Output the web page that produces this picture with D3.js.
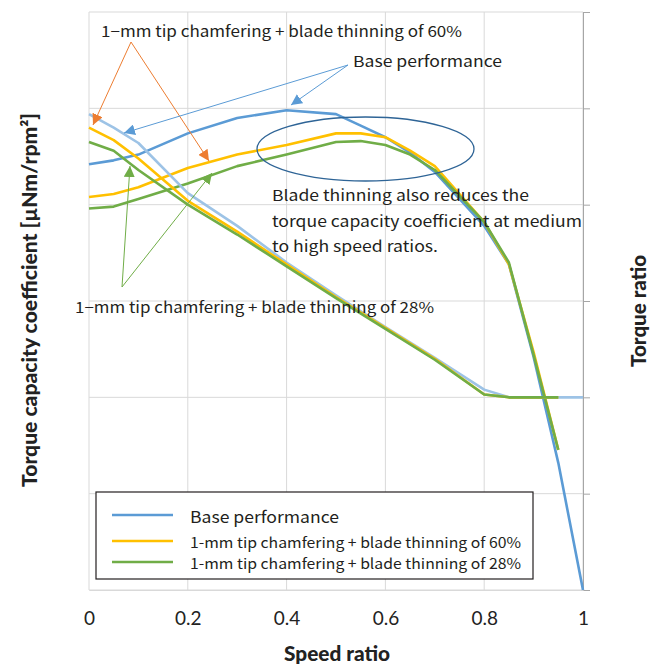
<!DOCTYPE html>
<html>
<head>
<meta charset="utf-8">
<script src="https://cdn.jsdelivr.net/npm/d3@7"></script>
<style>
  body { margin: 0; background: #fff; }
  svg { display: block; }
</style>
</head>
<body>
<div class="chart"></div>
<script>
// speed ratio samples
const tcSpeed = [0, 0.05, 0.1, 0.2, 0.3, 0.4, 0.5, 0.55, 0.6, 0.65, 0.7, 0.8, 0.85, 0.9, 0.95, 1.0];
const trSpeed = [0, 0.05, 0.1, 0.2, 0.3, 0.4, 0.5, 0.6, 0.7, 0.8, 0.85, 0.9, 0.95, 1.0];

// torque capacity coefficient (left axis, no labels shown)
const tcBase = [22.1, 22.3, 22.6, 23.7, 24.5, 24.9, 24.7, 24.1, 23.5, 22.7, 21.7, 18.9, 16.9, 12.1, 6.6, 0];
const tc60   = [20.4, 20.55, 20.9, 21.9, 22.6, 23.1, 23.7, 23.7, 23.5, 22.8, 22.0, 19.1, 16.9, 12.35, 7.27];
const tc28   = [19.8, 19.9, 20.3, 21.1, 22.0, 22.6, 23.25, 23.3, 23.1, 22.6, 21.8, 19.1, 17.0, 12.2, 7.27];

// torque ratio (right axis)
const trBase = [2.47, 2.40, 2.32, 2.06, 1.89, 1.70, 1.53, 1.365, 1.205, 1.04, 1.0, 1.0, 1.0, 1.0];
const tr60   = [2.40, 2.335, 2.24, 2.02, 1.86, 1.69, 1.52, 1.36, 1.20, 1.015, 1.0, 1.0, 1.0];
const tr28   = [2.325, 2.28, 2.18, 2.00, 1.845, 1.68, 1.515, 1.355, 1.195, 1.015, 1.0, 1.0, 1.0];

const xTicks = [0, 0.2, 0.4, 0.6, 0.8, 1];
const trTicks = [0, 0.5, 1, 1.5, 2, 2.5, 3];

const legendNames = ['Base performance',
  '1-mm tip chamfering + blade thinning of 60%',
  '1-mm tip chamfering + blade thinning of 28%'];

const BLUE = '#5b9bd5', YELLOW = '#ffc000', GREEN = '#70ad47', LIGHT = '#9dc3e6', ORANGE = '#ed7d31';
const jp = "'Noto Sans CJK JP', 'Noto Sans', sans-serif";
const lab = "Lato, 'Open Sans', sans-serif";

const width = 664, height = 666;
const svg = d3.select('.chart').append('svg')
  .attr('width', width).attr('height', height);

const x = d3.scaleLinear().domain([0, 1]).range([89, 583]);
const yTC = d3.scaleLinear().domain([0, 30]).range([590, 12]);
const yTR = d3.scaleLinear().domain([0, 3]).range([590, 12]);

// grid
svg.append('g').selectAll('line').data(trTicks).enter().append('line')
  .attr('x1', x(0)).attr('x2', x(1))
  .attr('y1', d => yTR(d)).attr('y2', d => yTR(d))
  .attr('stroke', '#d9d9d9').attr('stroke-width', 1);
svg.append('g').selectAll('line').data(xTicks).enter().append('line')
  .attr('x1', d => x(d)).attr('x2', d => x(d))
  .attr('y1', yTR(0)).attr('y2', yTR(3))
  .attr('stroke', '#d9d9d9').attr('stroke-width', 1);

// right axis (ticks, no labels)
const rAxis = svg.append('g').attr('transform', 'translate(' + x(1) + ',0)')
  .call(d3.axisRight(yTR).tickValues(trTicks).tickSize(7).tickFormat(''));
rAxis.selectAll('path, line').attr('stroke', '#a6a6a6');

// bottom labels
const xAxis = svg.append('g').attr('transform', 'translate(0,' + yTR(0) + ')')
  .call(d3.axisBottom(x).tickValues(xTicks).tickSize(0).tickPadding(22)
    .tickFormat(d => d === 0 || d === 1 ? d : d3.format('.1f')(d)));
xAxis.select('.domain').attr('stroke', '#d9d9d9');
xAxis.selectAll('text').attr('font-family', lab).attr('font-size', 19).attr('fill', '#222');

// lines
const line = (xs, sc) => d3.line().x((d, i) => x(xs[i])).y(d => sc(d));
const series = [
  { v: tcBase, xs: tcSpeed, sc: yTC, c: BLUE },
  { v: tc60, xs: tcSpeed, sc: yTC, c: YELLOW },
  { v: tc28, xs: tcSpeed, sc: yTC, c: GREEN },
  { v: trBase, xs: trSpeed, sc: yTR, c: LIGHT },
  { v: tr60, xs: trSpeed, sc: yTR, c: YELLOW },
  { v: tr28, xs: trSpeed, sc: yTR, c: GREEN }
];
svg.append('g').selectAll('path').data(series).enter().append('path')
  .attr('d', d => line(d.xs, d.sc)(d.v))
  .attr('fill', 'none').attr('stroke', d => d.c)
  .attr('stroke-width', 2.6).attr('stroke-linejoin', 'round');

// arrow markers
const defs = svg.append('defs');
[['orange', ORANGE], ['blue', BLUE], ['green', GREEN]].forEach(function(m) {
  defs.append('marker').attr('id', 'ah-' + m[0])
    .attr('viewBox', '0 0 10 10').attr('refX', 10).attr('refY', 5)
    .attr('markerWidth', 11).attr('markerHeight', 11).attr('markerUnits', 'userSpaceOnUse')
    .attr('orient', 'auto')
    .append('path').attr('d', 'M0,0 L10,5 L0,10 Z').attr('fill', m[1]);
});

function arrow(x1, y1, x2, y2, name, col) {
  svg.append('line').attr('x1', x1).attr('y1', y1).attr('x2', x2).attr('y2', y2)
    .attr('stroke', col).attr('stroke-width', 1)
    .attr('marker-end', 'url(#ah-' + name + ')');
}

// annotations
function note(t, x0, yc, w, fs) {
  svg.append('text').attr('x', x0).attr('y', yc + fs * 0.36)
    .attr('font-family', jp).attr('font-size', fs).attr('fill', '#231f20')
    .attr('textLength', w).attr('lengthAdjust', 'spacingAndGlyphs')
    .text(t);
}
note('1\u2212mm tip chamfering + blade thinning of 60%', 101, 32, 361, 15);
arrow(131, 42, 93, 125, 'orange', ORANGE);
arrow(131, 42, 209, 161, 'orange', ORANGE);

note('Base performance', 353, 62, 149, 15);
arrow(348, 65, 124, 133, 'blue', BLUE);
arrow(348, 65, 291, 105, 'blue', BLUE);

svg.append('ellipse').attr('cx', 365.5).attr('cy', 149).attr('rx', 108.5).attr('ry', 32)
  .attr('fill', 'none').attr('stroke', '#2e6496').attr('stroke-width', 1.3);

note('Blade thinning also reduces the', 272, 196, 257, 15);
note('torque capacity coefficient at medium', 272, 222, 310, 15);
note('to high speed ratios.', 272, 247, 166, 15);

note('1\u2212mm tip chamfering + blade thinning of 28%', 75, 308, 359, 15);
arrow(122, 287, 130, 166, 'green', GREEN);
arrow(122, 287, 212, 173, 'green', GREEN);

// legend
const lg = svg.append('g');
lg.append('rect').attr('x', 96).attr('y', 492).attr('width', 437).attr('height', 87)
  .attr('fill', '#fff').attr('stroke', '#231f20').attr('stroke-width', 1.2);
const legItems = [
  { n: legendNames[0], c: BLUE, y: 515, w: 149, fs: 16 },
  { n: legendNames[1], c: YELLOW, y: 541, w: 331, fs: 14.5 },
  { n: legendNames[2], c: GREEN, y: 562, w: 331, fs: 14.5 }
];
lg.selectAll('line').data(legItems).enter().append('line')
  .attr('x1', 112).attr('x2', 173)
  .attr('y1', d => d.y).attr('y2', d => d.y)
  .attr('stroke', d => d.c).attr('stroke-width', 2.6);
lg.selectAll('text').data(legItems).enter().append('text')
  .attr('x', 190).attr('y', d => d.y + 2 + d.fs * 0.36)
  .attr('font-family', jp).attr('font-size', d => d.fs).attr('fill', '#231f20')
  .attr('textLength', d => d.w).attr('lengthAdjust', 'spacingAndGlyphs')
  .text(d => d.n);

// axis titles
function title(t, tx, ty, rot, w) {
  svg.append('text').attr('transform', 'translate(' + tx + ',' + ty + ')' + (rot ? ' rotate(-90)' : ''))
    .attr('text-anchor', 'middle')
    .attr('font-family', lab).attr('font-weight', 900).attr('font-size', 20).attr('fill', '#222')
    .attr('textLength', w).attr('lengthAdjust', 'spacingAndGlyphs')
    .text(t);
}
title('Speed ratio', 337, 661, false, 106);
title('Torque capacity coefficient [\u00b5Nm/rpm\u00b2]', 37, 300, true, 374);
title('Torque ratio', 646, 311, true, 112);
</script>
</body>
</html>
